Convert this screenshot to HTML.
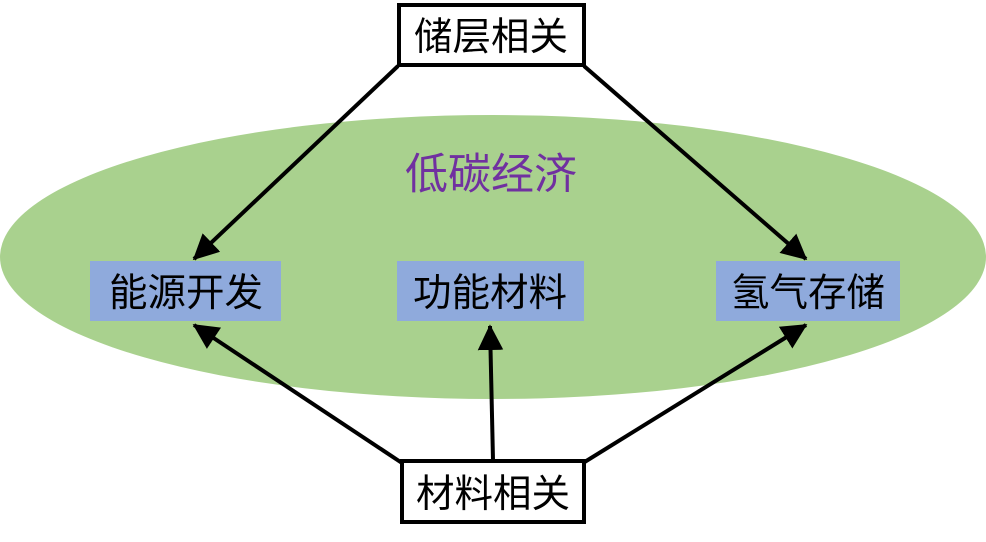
<!DOCTYPE html>
<html><head><meta charset="utf-8"><style>
body{margin:0;width:986px;height:537px;background:#fff;overflow:hidden}
svg text{font-family:"Liberation Sans","Noto Sans CJK SC",sans-serif;font-size:38.5px;text-anchor:middle}
</style></head><body>
<svg width="986" height="537" viewBox="0 0 986 537">
<defs><marker id="a" markerWidth="8" markerHeight="8" refX="6" refY="4" orient="auto" markerUnits="strokeWidth"><path d="M0,0L8,4L0,8z" fill="#000" transform="scale(0.8) translate(0,1)"/></marker></defs>
<ellipse cx="493" cy="257" rx="493" ry="142" fill="#a9d18e"/>
<text x="491" y="189" fill="#7030a0" style="font-size:43px">低碳经济</text>
<rect x="90" y="261" width="191" height="60" fill="#8faadc"/>
<rect x="397" y="261" width="187" height="60" fill="#8faadc"/>
<rect x="716" y="261" width="184" height="60" fill="#8faadc"/>
<text x="186" y="306">能源开发</text>
<text x="490" y="306">功能材料</text>
<text x="808" y="306">氢气存储</text>
<g stroke="#000" stroke-width="4" fill="none" marker-end="url(#a)">
<line x1="398" y1="66" x2="194" y2="259"/>
<line x1="584" y1="66" x2="806" y2="259"/>
<line x1="402" y1="463" x2="194" y2="325"/>
<line x1="493" y1="460" x2="490" y2="326"/>
<line x1="583" y1="463" x2="806" y2="325"/>
</g>
<rect x="399" y="5" width="185" height="60" fill="#fff" stroke="#000" stroke-width="4"/>
<text x="491" y="50">储层相关</text>
<rect x="402" y="461" width="182" height="61" fill="#fff" stroke="#000" stroke-width="4"/>
<text x="493" y="507">材料相关</text>
</svg>
</body></html>
